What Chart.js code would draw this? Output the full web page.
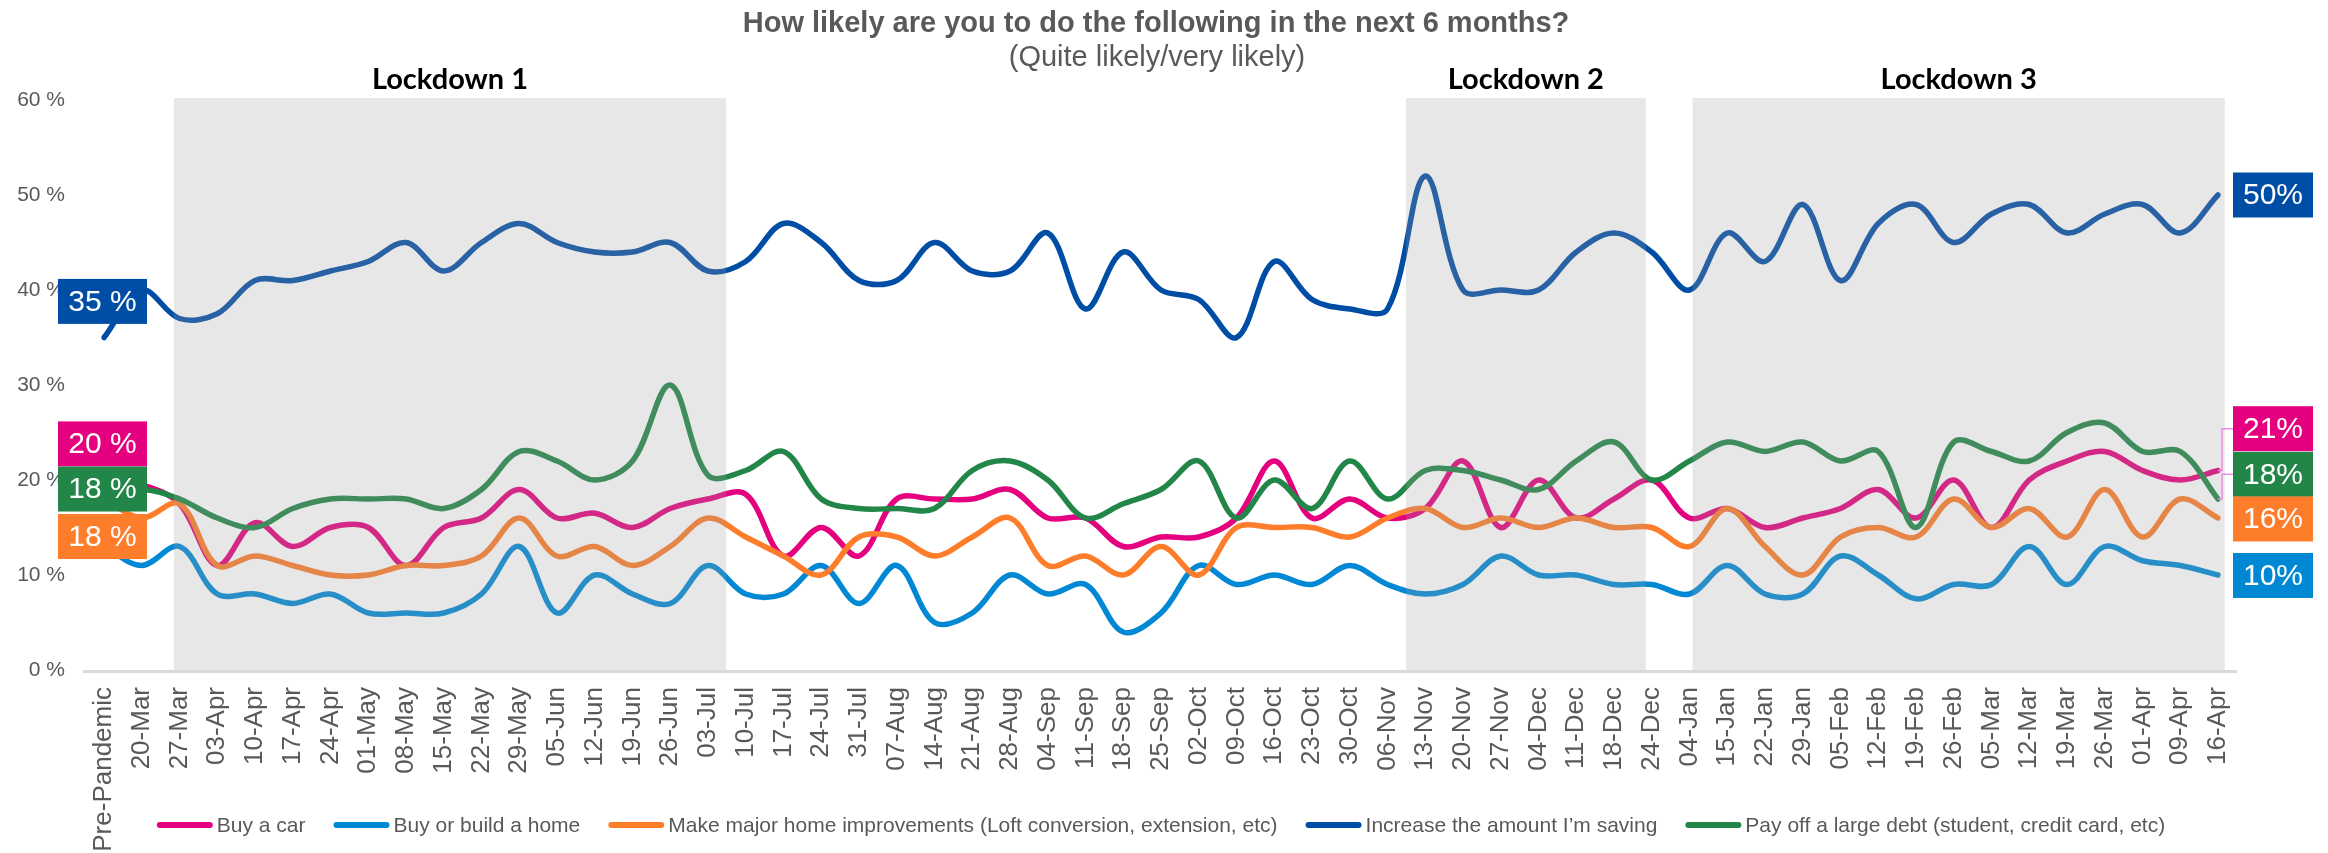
<!DOCTYPE html>
<html>
<head>
<meta charset="utf-8">
<script src="https://cdn.jsdelivr.net/npm/chart.js@4.4.1/dist/chart.umd.min.js"></script>
<style>
  html, body { margin: 0; padding: 0; background: #fff; }
  #wrap { width: 2328px; height: 853px; }
</style>
</head>
<body>
<div id="wrap"><canvas id="chart" width="2328" height="853"></canvas></div>
<script>
// ===== data (weekly tracker, % quite/very likely) =====
const weeks = ['Pre-Pandemic','20-Mar','27-Mar','03-Apr','10-Apr','17-Apr','24-Apr','01-May','08-May','15-May',
  '22-May','29-May','05-Jun','12-Jun','19-Jun','26-Jun','03-Jul','10-Jul','17-Jul','24-Jul',
  '31-Jul','07-Aug','14-Aug','21-Aug','28-Aug','04-Sep','11-Sep','18-Sep','25-Sep','02-Oct',
  '09-Oct','16-Oct','23-Oct','30-Oct','06-Nov','13-Nov','20-Nov','27-Nov','04-Dec','11-Dec',
  '18-Dec','24-Dec','04-Jan','15-Jan','22-Jan','29-Jan','05-Feb','12-Feb','19-Feb','26-Feb',
  '05-Mar','12-Mar','19-Mar','26-Mar','01-Apr','09-Apr','16-Apr'];

const buyCar = [20, 19.5, 17.5, 11, 15.5, 13, 15, 15, 11, 15, 16, 19, 16, 16.5, 15, 17, 18, 18.5, 12, 15,
  12, 18, 18, 18, 19, 16, 16, 13, 14, 14, 16, 22, 16, 18, 16, 17, 22, 15, 20, 16,
  18, 20, 16, 17, 15, 16, 17, 19, 16, 20, 15, 20, 22, 23, 21, 20, 21];
const buyHome = [13, 11, 13, 8, 8, 7, 8, 6, 6, 6, 8, 13, 6, 10, 8, 7, 11, 8, 8, 11,
  7, 11, 5, 6, 10, 8, 9, 4, 6, 11, 9, 10, 9, 11, 9, 8, 9, 12, 10, 10,
  9, 9, 8, 11, 8, 8, 12, 10, 7.5, 9, 9, 13, 9, 13, 11.5, 11, 10];
const improvements = [18, 16, 17.5, 11, 12, 11, 10, 10, 11, 11, 12, 16, 12, 13, 11, 13, 16, 14, 12, 10,
  14, 14, 12, 14, 16, 11, 12, 10, 13, 10, 15, 15, 15, 14, 16, 17, 15, 16, 15, 16,
  15, 15, 13, 17, 13, 10, 14, 15, 14, 18, 15, 17, 14, 19, 14, 18, 16];
const saving = [35, 40, 37, 37.5, 41, 41, 42, 43, 45, 42, 45, 47, 45, 44, 44, 45, 42, 43, 47, 45,
  41, 41, 45, 42, 42, 46, 38, 44, 40, 39, 35, 43, 39, 38, 38, 52, 40, 40, 40, 44,
  46, 44, 40, 46, 43, 49, 41, 47, 49, 45, 48, 49, 46, 48, 49, 46, 50];
const payDebt = [18, 19, 18, 16, 15, 17, 18, 18, 18, 17, 19, 23, 22, 20, 22, 30, 20.5, 21, 23, 18,
  17, 17, 17, 21, 22, 20, 16, 17.5, 19, 22, 16, 20, 17, 22, 18, 21, 21, 20, 19, 22,
  24, 20, 22, 24, 23, 24, 22, 23, 15, 24, 23, 22, 25, 26, 23, 23, 18];

const seriesNames = ['Buy a car', 'Buy or build a home',
  'Make major home improvements (Loft conversion, extension, etc)',
  'Increase the amount I\u2019m saving', 'Pay off a large debt (student, credit card, etc)'];
const yTicks = [0, 10, 20, 30, 40, 50, 60];

// lockdown periods, in week-index units
const lockdownNames = ['Lockdown 1', 'Lockdown 2', 'Lockdown 3'];
const lockdownFrom = [1.85, 34.49, 42.08];
const lockdownTo = [16.48, 40.84, 56.18];

const FONT = "'Liberation Sans', Arial, sans-serif";
const GREY = '#595959';
const colors = ['#E4007E', '#0088D4', '#FD7D2A', '#004DA6', '#218647'];

// boxed value labels: [series, text, centre (axis value)]
const startLabels = [[3, '35 %', 38.8], [0, '20 %', 23.8], [4, '18 %', 19.05], [2, '18 %', 14.05]];
const endLabels = [[3, '50%', 50], [0, '21%', 25.4], [4, '18%', 20.6], [2, '16%', 15.9], [1, '10%', 9.95]];

function $(id) { return document.getElementById(id); }

const decor = {
  id: 'decor',
  beforeDraw(chart) {
    const ctx = chart.ctx, x = chart.scales.x;
    ctx.save();
    ctx.textAlign = 'center';
    ctx.textBaseline = 'middle';
    ctx.fillStyle = GREY;
    ctx.font = 'bold 29px ' + FONT;
    ctx.fillText('How likely are you to do the following in the next 6 months?', 1156, 24);
    ctx.font = '29px ' + FONT;
    ctx.fillText('(Quite likely/very likely)', 1157, 58);
    ctx.fillStyle = '#000';
    ctx.font = "bold 29px Lato, " + FONT;
    lockdownNames.forEach((n, i) => {
      const cx = (x.getPixelForValue(lockdownFrom[i]) + x.getPixelForValue(lockdownTo[i])) / 2;
      ctx.fillText(n, cx, 80);
    });
    ctx.restore();
  },
  afterDatasetsDraw(chart) {
    // grey lockdown bands sit over the lines, washing them out
    const ctx = chart.ctx, x = chart.scales.x, a = chart.chartArea;
    ctx.save();
    ctx.fillStyle = 'rgba(160,160,160,0.25)';
    lockdownFrom.forEach((f, i) => {
      const x0 = x.getPixelForValue(f), x1 = x.getPixelForValue(lockdownTo[i]);
      ctx.fillRect(x0, a.top - 2, x1 - x0, a.bottom - a.top + 2);
    });
    ctx.restore();
  },
  afterDraw(chart) {
    const ctx = chart.ctx, x = chart.scales.x, y = chart.scales.y, a = chart.chartArea;
    ctx.save();
    // category axis line
    ctx.strokeStyle = '#D9D9D9';
    ctx.lineWidth = 3;
    ctx.beginPath();
    ctx.moveTo(a.left - 21, a.bottom + 1.5);
    ctx.lineTo(a.right + 19, a.bottom + 1.5);
    ctx.stroke();

    // leader lines for the stacked end labels
    const xe = x.getPixelForValue(weeks.length - 1);
    ctx.strokeStyle = '#EE8BE2';
    ctx.lineWidth = 1.5;
    [[0, 25.4], [4, 20.6]].forEach(([s, at]) => {
      const data = chart.data.datasets[s].data;
      ctx.beginPath();
      ctx.moveTo(xe, y.getPixelForValue(data[data.length - 1]));
      ctx.lineTo(xe + 4, y.getPixelForValue(data[data.length - 1]));
      ctx.lineTo(xe + 4, y.getPixelForValue(at));
      ctx.lineTo(xe + 15, y.getPixelForValue(at));
      ctx.stroke();
    });

    // value boxes
    ctx.font = '30px ' + FONT;
    ctx.textAlign = 'center';
    ctx.textBaseline = 'middle';
    const box = (s, text, at, left, w) => {
      const cy = y.getPixelForValue(at);
      ctx.fillStyle = colors[s];
      ctx.fillRect(left, cy - 22.5, w, 45);
      ctx.fillStyle = '#fff';
      ctx.fillText(text, left + w / 2, cy + 1);
    };
    startLabels.forEach(([s, t, at]) => box(s, t, at, a.left - 46, 89));
    endLabels.forEach(([s, t, at]) => box(s, t, at, a.right + 15, 80));

    // legend
    ctx.font = '21px ' + FONT;
    ctx.textAlign = 'left';
    const sw = 56, gapIn = 4, gapOut = 28;
    const items = chart.data.datasets.map(d => ({ text: d.label, color: d.borderColor, w: ctx.measureText(d.label).width }));
    const total = items.reduce((t, it) => t + sw + gapIn + it.w, 0) + gapOut * (items.length - 1);
    let lx = 1161 - total / 2;
    const ly = 825;
    ctx.lineCap = 'round';
    items.forEach(it => {
      ctx.strokeStyle = it.color;
      ctx.lineWidth = 6;
      ctx.beginPath();
      ctx.moveTo(lx + 3, ly);
      ctx.lineTo(lx + sw - 3, ly);
      ctx.stroke();
      ctx.fillStyle = GREY;
      ctx.fillText(it.text, lx + sw + gapIn, ly + 1);
      lx += sw + gapIn + it.w + gapOut;
    });
    ctx.restore();
  }
};

function makeSet(i, data) {
  return {
    label: seriesNames[i],
    data: data,
    borderColor: colors[i],
    backgroundColor: colors[i],
    borderWidth: 5.5,
    borderCapStyle: 'round',
    borderJoinStyle: 'round',
    pointRadius: 0,
    tension: 0.35,
    fill: false,
    order: 4 - i
  };
}

new Chart($('chart'), {
  type: 'line',
  data: {
    labels: weeks,
    datasets: [
      makeSet(0, buyCar),
      makeSet(1, buyHome),
      makeSet(2, improvements),
      makeSet(3, saving),
      makeSet(4, payDebt)
    ]
  },
  options: {
    responsive: false,
    devicePixelRatio: 1,
    animation: false,
    layout: { padding: { top: 100, right: 110, left: 0, bottom: 0 } },
    plugins: {
      legend: { display: false },
      title: { display: false },
      tooltip: { enabled: false }
    },
    scales: {
      x: {
        offset: false,
        grid: { display: false, drawTicks: false },
        border: { display: false },
        ticks: {
          autoSkip: false, maxRotation: 90, minRotation: 90, padding: 17,
          color: GREY, font: { family: FONT, size: 26 }
        },
        afterFit: s => { s.height = 183; }
      },
      y: {
        min: 0, max: 60,
        afterBuildTicks: s => { s.ticks = yTicks.map(v => ({ value: v })); },
        grid: { display: false, drawTicks: false },
        border: { display: false },
        ticks: {
          padding: 39, color: GREY, font: { family: FONT, size: 21 },
          callback: v => v + ' %'
        },
        afterFit: s => { s.width = 104; }
      }
    }
  },
  plugins: [decor]
});
</script>
</body>
</html>
